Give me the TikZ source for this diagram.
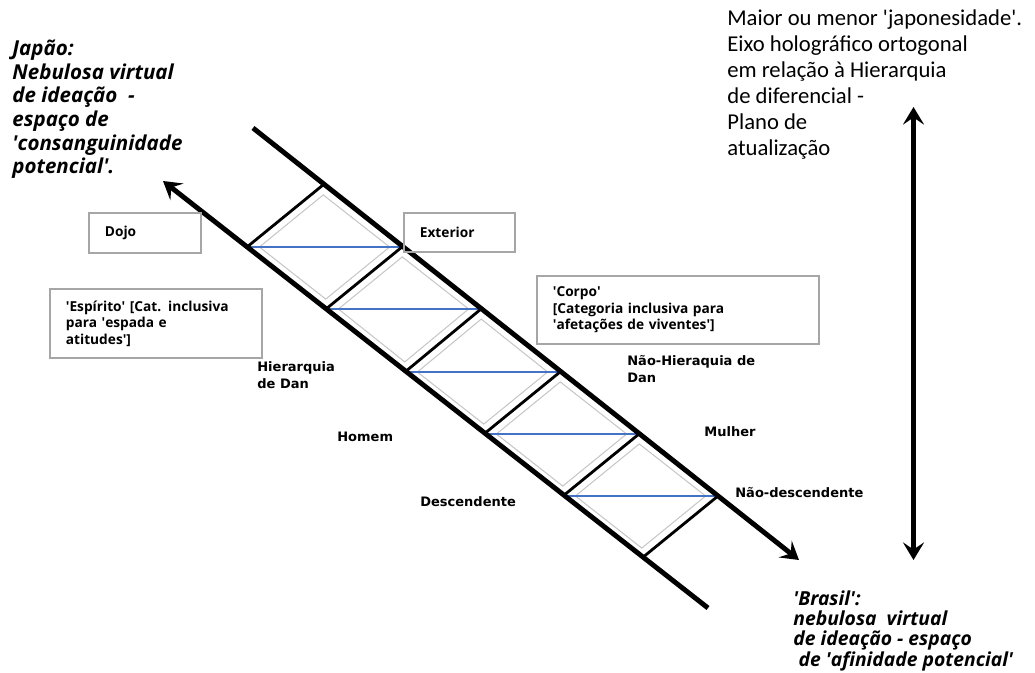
\documentclass[tikz,border=0pt]{standalone}
\usepackage{fontspec}
\setmainfont{Open Sans}
\newfontfamily\labelfont{DejaVu Sans}
\newfontfamily\notefont{Carlito}
\usetikzlibrary{arrows.meta,calc}
\definecolor{barblue}{RGB}{68,114,196}
\newcommand\qm{\textquotesingle}

\begin{document}
\begin{tikzpicture}[
  x=0.02cm, y=-0.02cm,
  >={Stealth[length=10pt,width=12pt,inset=4pt]},
  rail/.style={line width=2.8pt},
  rung/.style={line width=1.6pt},
  diag/.style={line width=1.1pt,draw=barblue},
  inset/.style={line width=0.6pt,draw=black!22},
  box/.style={draw=black!35,line width=1pt,anchor=north west,align=left,
    inner xsep=0.32cm,font=\bfseries\fontsize{7.8}{9.4}\selectfont},
  tag/.style={anchor=west,align=left,inner sep=0,
    font=\labelfont\bfseries\fontsize{7.4}{9.7}\selectfont},
  note/.style={anchor=north west,align=left,inner sep=0}
]
  \useasboundingbox (0,0) rectangle (1035,673);

  % points on the two rails
  \coordinate (U0) at (323,185);
  \coordinate (U1) at (402,247);
  \coordinate (U2) at (481,309);
  \coordinate (U3) at (560,372);
  \coordinate (U4) at (639,434);
  \coordinate (U5) at (718,496);
  \coordinate (L1) at (247,247);
  \coordinate (L2) at (326,309);
  \coordinate (L3) at (405,372);
  \coordinate (L4) at (484,434);
  \coordinate (L5) at (563,496);
  \coordinate (L6) at (642,558);

  \coordinate (lowTip) at (163,181);
  \coordinate (lowEnd) at (708,608);
  \coordinate (upStart) at (253,128);
  \coordinate (upTip) at (799,560);
  \coordinate (axisTop) at (913.5,107);
  \coordinate (axisBot) at (913.5,560);

  % cells
  \foreach \a/\b/\c/\d in {L1/U0/U1/L2,L2/U1/U2/L3,L3/U2/U3/L4,L4/U3/U4/L5,L5/U4/U5/L6}{
    \coordinate (m) at ($(\a)!.5!(\c)$);
    \draw[inset] ($(m)!.84!(\a)$) -- ($(m)!.84!(\b)$) -- ($(m)!.84!(\c)$) -- ($(m)!.84!(\d)$) -- cycle;
  }
  \foreach \k in {1,...,5} \draw[diag] (L\k) -- (U\k);
  \foreach \k/\j in {1/0,2/1,3/2,4/3,5/4,6/5} \draw[rung] (L\k) -- (U\j);

  \draw[rail,<-] (lowTip) -- (lowEnd);
  \draw[rail,->] (upStart) -- (upTip);
  \draw[line width=2.6pt,<->] (axisTop) -- (axisBot);

  \node[box,text width=1.6cm,minimum height=0.8cm] (dojo) at (88,212) {Dojo};
  \node[box,text width=1.58cm,minimum height=0.78cm] (exterior) at (403,212) {Exterior};
  \node[box,text width=3.6cm,minimum height=1.38cm] (espirito) at (49,288)
    {\qm Espírito\qm{} [Cat. inclusiva\\para \qm espada e\\atitudes\qm]};
  \node[box,text width=5.0cm,minimum height=1.36cm] (corpo) at (536,275)
    {\qm Corpo\qm\\{[}Categoria inclusiva para\\\qm afetações de viventes\qm{]}};

  \node[tag] (hierarquia) at (257,375) {Hierarquia\\de Dan};
  \node[tag] (homem) at (337,437) {Homem};
  \node[tag] (descendente) at (420,502) {Descendente};
  \node[tag] (naohierarquia) at (627,369) {Não-Hieraquia de\\Dan};
  \node[tag] (mulher) at (704,432) {Mulher};
  \node[tag] (naodescendente) at (735,493) {Não-descendente};

  \node[note,font=\bfseries\itshape\fontsize{11.7}{13.4}\selectfont] (japao) at (12,40)
    {Japão:\\Nebulosa virtual\\de ideação~~-\\espaço de\\\qm consanguinidade\\potencial\qm.};
  \node[note,font=\notefont\fontsize{12.9}{14.8}\selectfont] (eixo) at (727,9)
    {Maior ou menor \qm japonesidade\qm.\\Eixo holográfico ortogonal\\em relação à Hierarquia\\de diferencial -\\Plano de\\atualização};
  \node[note,font=\bfseries\itshape\fontsize{11}{11.6}\selectfont] (brasil) at (793,590)
    {\qm Brasil\qm:\\nebulosa~~virtual\\de ideação - espaço\\\hspace*{3pt}de \qm afinidade potencial\qm};
\end{tikzpicture}
\end{document}
